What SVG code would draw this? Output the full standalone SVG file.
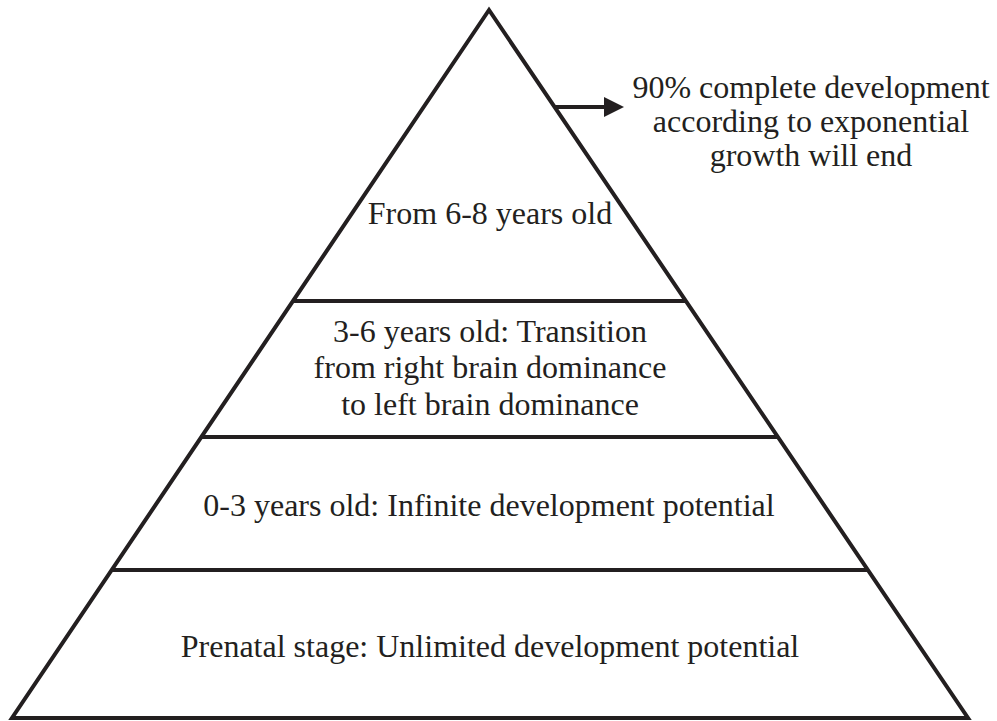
<svg xmlns="http://www.w3.org/2000/svg" width="997" height="721" viewBox="0 0 997 721">
<style>
.ln{stroke:#231f20;stroke-width:4;fill:none}
.t{font-family:"Liberation Serif","Times New Roman",serif;font-size:32px;fill:#231f20;text-anchor:middle}
</style>
<defs>
<marker id="ah" markerWidth="5" markerHeight="5" refX="4" refY="2.5" orient="auto" markerUnits="strokeWidth">
<path d="M0,0 L5,2.5 L0,5 Z" fill="#231f20"/>
</marker>
</defs>
<rect width="997" height="721" fill="#fff"/>
<g id="pyramid">
<path class="ln" d="M489,10 L12,718 L968,718 Z" stroke-linejoin="miter"/>
</g>
<g id="dividers">
<line class="ln" x1="292" y1="301" x2="686" y2="301"/>
<line class="ln" x1="200" y1="437" x2="777" y2="437"/>
<line class="ln" x1="111" y1="570" x2="868" y2="570"/>
</g>
<g id="level4">
<text class="t" x="490" y="224">From 6-8 years old</text>
</g>
<g id="level3">
<text class="t" x="490" y="342">3-6 years old: Transition</text>
<text class="t" x="490" y="378">from right brain dominance</text>
<text class="t" x="490" y="415">to left brain dominance</text>
</g>
<g id="level2">
<text class="t" x="489" y="516">0-3 years old: Infinite development potential</text>
</g>
<g id="level1">
<text class="t" x="490" y="657">Prenatal stage: Unlimited development potential</text>
</g>
<g id="connectors">
<line class="ln" x1="555" y1="107" x2="620" y2="107" marker-end="url(#ah)"/>
</g>
<g id="note">
<text class="t" x="811" y="98">90% complete development</text>
<text class="t" x="811" y="132">according to exponential</text>
<text class="t" x="811" y="166">growth will end</text>
</g>
</svg>
